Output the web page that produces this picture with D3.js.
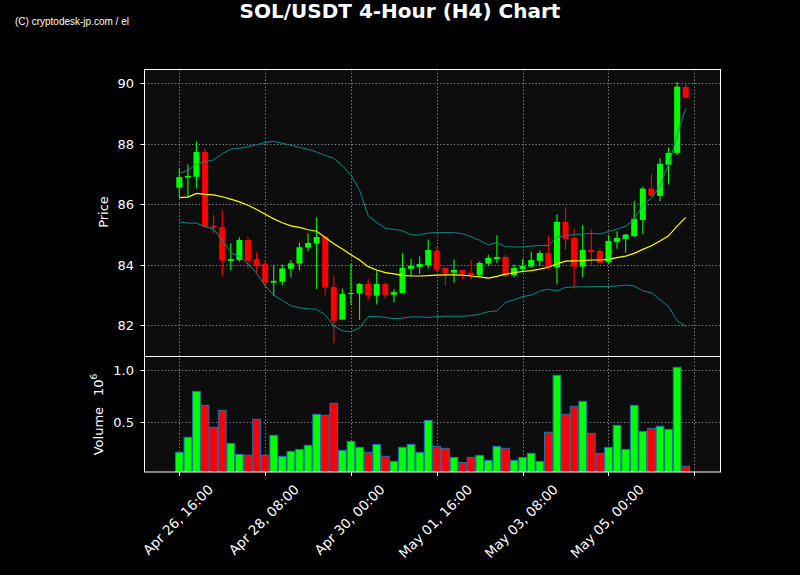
<!DOCTYPE html>
<html><head><meta charset="utf-8">
<script src="https://cdn.jsdelivr.net/npm/d3@7"></script>
<style>html,body{margin:0;padding:0;background:#000;} svg{display:block;}</style>
</head><body>
<svg id="chart" width="800" height="575"></svg>
<script>
// ---------------- DATA ----------------
const titleText = "SOL/USDT 4-Hour (H4) Chart";
const watermark = "(C) cryptodesk-jp.com / el";
const xTickIndex = [0, 10, 20, 30, 40, 50, 60];
const xTickLabels = ["Apr 26, 16:00", "Apr 28, 08:00", "Apr 30, 00:00", "May 01, 16:00", "May 03, 08:00", "May 05, 00:00", ""];
const priceTicks = [82, 84, 86, 88, 90];
const volumeTicks = [0.5, 1.0];

const opens = [86.55,86.88,86.91,87.73,85.29,85.25,84.13,84.16,84.82,84.19,
  84.03,83.41,83.44,83.87,84.04,84.57,84.70,84.93,83.27,82.19,
  83.05,83.05,83.37,82.98,83.37,83.01,83.07,83.87,83.93,83.99,
  84.46,83.90,83.74,83.83,83.74,83.66,84.04,84.19,84.26,83.65,
  83.86,83.94,84.13,84.39,83.91,85.42,84.89,83.94,84.49,84.46,
  84.09,84.75,84.85,84.95,85.48,86.52,86.28,87.31,87.70,89.88];
const highs = [87.19,87.32,88.08,87.85,85.64,85.82,84.71,84.91,84.90,84.41,
  84.16,83.97,84.01,84.15,84.73,85.04,85.57,84.95,83.65,83.22,
  84.03,83.40,83.54,83.82,83.41,83.19,84.38,84.20,84.28,84.84,
  84.59,83.91,84.18,83.84,84.15,84.12,84.33,84.98,84.33,84.01,
  84.19,84.44,84.47,84.96,85.67,85.90,85.21,85.31,85.17,84.53,
  84.99,85.11,85.02,86.10,86.58,86.99,87.52,87.88,90.04,89.97];
const lows = [86.25,86.25,86.53,85.24,85.04,83.62,83.82,84.10,83.88,83.72,
  83.28,82.97,83.33,83.59,83.82,84.45,83.19,82.99,81.40,82.18,
  82.67,82.18,82.82,82.69,82.87,82.76,83.05,83.65,83.70,83.88,
  83.77,83.32,83.41,83.52,83.52,83.63,83.97,84.05,83.59,83.59,
  83.75,83.92,83.96,83.85,83.36,84.51,83.21,83.59,83.98,84.05,
  84.05,84.53,84.40,84.90,85.01,86.25,86.10,86.66,87.63,89.49];
const closes = [86.90,86.94,87.73,85.26,85.23,84.14,84.19,84.82,84.14,83.99,
  83.41,83.47,83.88,84.05,84.58,84.72,84.92,83.25,82.15,83.04,
  83.07,83.37,82.98,83.37,83.00,83.10,83.90,83.97,84.03,84.49,
  83.86,83.73,83.83,83.71,83.66,84.06,84.23,84.26,83.63,83.90,
  83.97,84.16,84.39,83.93,85.42,84.85,83.94,84.49,84.42,84.07,
  84.79,84.89,85.00,85.52,86.52,86.28,87.34,87.70,89.89,89.53];
const volumes = [212000,356000,798000,663000,452000,615000,298000,192000,183000,529000,
  183000,375000,173000,221000,240000,279000,577000,567000,683000,231000,
  317000,260000,212000,288000,173000,125000,260000,288000,212000,519000,
  269000,250000,163000,115000,163000,183000,135000,269000,250000,135000,
  163000,202000,125000,404000,952000,577000,654000,702000,394000,202000,
  260000,471000,240000,663000,413000,442000,462000,433000,1029000,77000];
const movingAvg = [86.22,86.24,86.36,86.33,86.31,86.25,86.17,86.08,85.97,85.83,
  85.67,85.52,85.39,85.29,85.24,85.16,85.11,84.90,84.70,84.52,
  84.33,84.16,83.94,83.83,83.74,83.70,83.65,83.63,83.63,83.64,
  83.66,83.67,83.67,83.66,83.63,83.60,83.56,83.62,83.69,83.74,
  83.78,83.81,83.86,83.92,84.03,84.12,84.13,84.14,84.16,84.16,
  84.18,84.24,84.29,84.38,84.51,84.63,84.79,84.96,85.28,85.57];
const bandUpper = [87.02,87.12,87.33,87.41,87.47,87.67,87.83,87.85,87.91,87.97,
  88.05,88.08,88.02,87.95,87.88,87.82,87.73,87.62,87.52,87.28,
  86.97,86.47,85.63,85.40,85.21,85.17,85.13,84.99,84.99,85.05,
  85.07,85.07,85.06,85.03,84.93,84.81,84.66,84.74,84.60,84.59,
  84.59,84.62,84.64,84.64,84.92,84.96,85.00,85.02,85.04,85.02,
  85.10,85.18,85.28,85.50,85.98,86.20,86.62,87.30,88.29,89.17];
const bandLower = [85.42,85.38,85.38,85.26,85.18,84.82,84.40,84.27,84.03,83.72,
  83.31,83.00,82.82,82.65,82.58,82.55,82.53,82.34,81.98,81.82,
  81.79,81.92,82.29,82.29,82.26,82.22,82.24,82.28,82.28,82.26,
  82.29,82.30,82.30,82.30,82.32,82.37,82.45,82.48,82.76,82.84,
  82.95,83.00,83.13,83.19,83.14,83.25,83.27,83.27,83.28,83.28,
  83.28,83.30,83.33,83.30,83.14,83.08,82.85,82.62,82.15,81.96];

// ---------------- LAYOUT ----------------
const W = 800, H = 575;
const P = {left: 144.5, right: 720.5, top: 69.5, mid: 357, bottom: 472};
const UP = "#00ff00", DOWN = "#ff0000";
const FONT = "'DejaVu Sans', sans-serif";

const svg = d3.select("#chart");
svg.append("rect").attr("width", W).attr("height", H).attr("fill", "#000");

const x = d3.scaleLinear().domain([-4.08, 63.03]).range([144.3, 720.3]);
const yP = d3.scaleLinear().domain([82, 90]).range([325.33, 83.33]);
const yV = d3.scaleLinear().domain([0.0224e6, 1.128e6]).range([P.bottom, P.mid]);

const defs = svg.append("defs");
defs.append("clipPath").attr("id", "clipP").append("rect")
  .attr("x", P.left).attr("y", P.top).attr("width", P.right - P.left).attr("height", P.mid - P.top);
defs.append("clipPath").attr("id", "clipV").append("rect")
  .attr("x", P.left).attr("y", P.mid).attr("width", P.right - P.left).attr("height", P.bottom - P.mid);

// panel backgrounds
svg.append("rect").attr("x", P.left).attr("y", P.top).attr("width", P.right - P.left)
  .attr("height", P.bottom - P.top).attr("fill", "#0d0d0d");

// grids
const gridStyle = g => g.attr("stroke", "#a8a8a8").attr("stroke-width", 1)
  .attr("stroke-dasharray", "1.2,2.2").attr("stroke-opacity", 0.85);
const grid = svg.append("g");
grid.selectAll(".gx").data(xTickIndex).join("line")
  .attr("x1", d => Math.round(x(d)) + 0.5).attr("x2", d => Math.round(x(d)) + 0.5)
  .attr("y1", P.top).attr("y2", P.bottom).call(gridStyle);
grid.selectAll(".gyp").data(priceTicks).join("line")
  .attr("x1", P.left).attr("x2", P.right)
  .attr("y1", d => Math.round(yP(d)) + 0.5).attr("y2", d => Math.round(yP(d)) + 0.5).call(gridStyle);
grid.selectAll(".gyv").data(volumeTicks).join("line")
  .attr("x1", P.left).attr("x2", P.right)
  .attr("y1", d => Math.round(yV(d * 1e6)) + 0.5).attr("y2", d => Math.round(yV(d * 1e6)) + 0.5).call(gridStyle);

// candles
const idx = d3.range(opens.length);
const gc = svg.append("g").attr("clip-path", "url(#clipP)");
const col = i => closes[i] >= opens[i] ? UP : DOWN;
gc.selectAll(".wick").data(idx).join("line")
  .attr("x1", i => x(i)).attr("x2", i => x(i))
  .attr("y1", i => yP(highs[i])).attr("y2", i => yP(lows[i]))
  .attr("stroke", col).attr("stroke-width", 1.1);
gc.selectAll(".body").data(idx).join("rect")
  .attr("x", i => x(i - 0.35)).attr("width", x(0.35) - x(-0.35))
  .attr("y", i => yP(Math.max(opens[i], closes[i])))
  .attr("height", i => Math.max(1, Math.abs(yP(opens[i]) - yP(closes[i]))))
  .attr("fill", col);

// bands & moving average
const line = arr => d3.line().x((d, i) => x(i)).y(d => yP(d))(arr);
gc.append("path").attr("d", line(bandUpper)).attr("fill", "none").attr("stroke", "#0a8a8a").attr("stroke-width", 1);
gc.append("path").attr("d", line(bandLower)).attr("fill", "none").attr("stroke", "#0a8a8a").attr("stroke-width", 1);
gc.append("path").attr("d", line(movingAvg)).attr("fill", "none").attr("stroke", "#ffff00").attr("stroke-width", 1.2);

// volume
const gv = svg.append("g").attr("clip-path", "url(#clipV)");
gv.selectAll(".vol").data(idx).join("rect")
  .attr("x", i => x(i - 0.45)).attr("width", x(0.45) - x(-0.45))
  .attr("y", i => yV(volumes[i])).attr("height", i => P.bottom + 5 - yV(volumes[i]))
  .attr("fill", col).attr("stroke", "#1f6fb4").attr("stroke-width", 1);

// frames
const frame = (y0, y1) => svg.append("rect").attr("x", P.left).attr("y", y0)
  .attr("width", P.right - P.left).attr("height", y1 - y0)
  .attr("fill", "none").attr("stroke", "#fff").attr("stroke-width", 1);
frame(P.top, P.mid - 0.5);
frame(P.mid - 0.5, P.bottom);

// y ticks
const axisText = (sel, fs) => sel.attr("fill", "#fff").attr("font-family", FONT).attr("font-size", (fs || 12.5) + "px");
svg.selectAll(".tp").data(priceTicks).join("line")
  .attr("x1", P.left - 4).attr("x2", P.left).attr("y1", d => Math.round(yP(d)) + 0.5).attr("y2", d => Math.round(yP(d)) + 0.5)
  .attr("stroke", "#fff");
svg.selectAll(".tpl").data(priceTicks).join("text")
  .attr("x", 134).attr("y", d => yP(d)).attr("dy", "0.36em").attr("text-anchor", "end")
  .text(d => d3.format("d")(d)).call(axisText, 13);
svg.selectAll(".tv").data(volumeTicks).join("line")
  .attr("x1", P.left - 4).attr("x2", P.left).attr("y1", d => Math.round(yV(d * 1e6)) + 0.5).attr("y2", d => Math.round(yV(d * 1e6)) + 0.5)
  .attr("stroke", "#fff");
svg.selectAll(".tvl").data(volumeTicks).join("text")
  .attr("x", 134).attr("y", d => yV(d * 1e6)).attr("dy", "0.36em").attr("text-anchor", "end")
  .text(d => d3.format(".1f")(d)).call(axisText, 13);

// x ticks
svg.selectAll(".tx").data(xTickIndex).join("line")
  .attr("x1", d => Math.round(x(d)) + 0.5).attr("x2", d => Math.round(x(d)) + 0.5)
  .attr("y1", P.bottom).attr("y2", P.bottom + 4).attr("stroke", "#fff");
xTickIndex.forEach((d, k) => {
  const t = svg.append("text").text(xTickLabels[k]).call(axisText, 13.5)
    .attr("text-anchor", "middle").attr("dominant-baseline", "central");
  const L = t.node().getComputedTextLength();
  const cx = x(d) - 1.5, cy = 483 + (L + 11) * 0.3536;
  t.attr("transform", `translate(${cx},${cy}) rotate(-45)`);
});

// axis labels
svg.append("text").attr("transform", `translate(108,212) rotate(-90)`)
  .attr("text-anchor", "middle").text("Price").call(axisText, 13);
const vl = svg.append("text").attr("transform", `translate(103,414.5) rotate(-90)`)
  .attr("text-anchor", "middle").call(axisText, 13);
vl.append("tspan").text("Volume");
vl.append("tspan").attr("dx", 11).text("10");
vl.append("tspan").attr("dy", -6).attr("font-size", "9px").text("6");

// title & watermark
svg.append("text").attr("x", 400).attr("y", 17.5).attr("text-anchor", "middle")
  .attr("font-family", FONT).attr("font-weight", "bold").attr("font-size", "20px")
  .attr("fill", "#fff").text(titleText);
svg.append("text").attr("x", 15).attr("y", 24.5)
  .attr("font-family", "'Liberation Sans', Arial, sans-serif").attr("font-size", "10px")
  .attr("fill", "#fff").text(watermark);
</script>
</body></html>
